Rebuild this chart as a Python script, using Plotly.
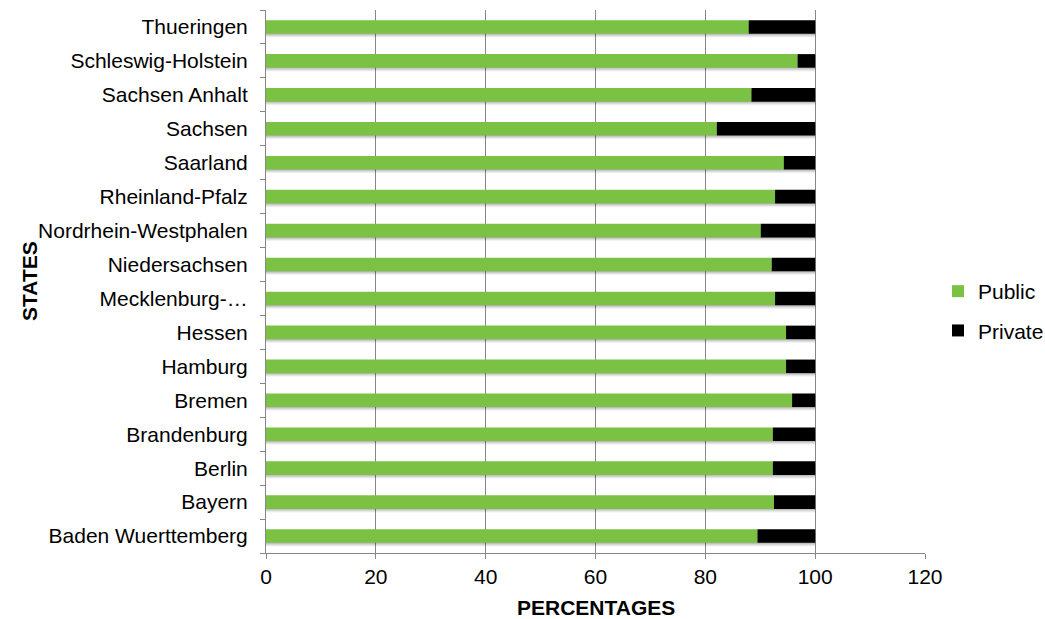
import plotly.graph_objects as go

# States listed bottom-to-top as they appear on the category axis
states = [
    "Baden Wuerttemberg", "Bayern", "Berlin", "Brandenburg", "Bremen",
    "Hamburg", "Hessen", "Mecklenburg-…", "Niedersachsen",
    "Nordrhein-Westphalen", "Rheinland-Pfalz", "Saarland", "Sachsen",
    "Sachsen Anhalt", "Schleswig-Holstein", "Thueringen",
]
public_pct = [89.5, 92.5, 92.3, 92.3, 95.8, 94.7, 94.7, 92.7, 92.1,
              90.1, 92.7, 94.3, 82.1, 88.4, 96.8, 87.9]
private_pct = [round(100 - p, 1) for p in public_pct]
totals = [p + q for p, q in zip(public_pct, private_pct)]

x_ticks = [0, 20, 40, 60, 80, 100, 120]

GREEN = "#7BC143"
AXIS_GRAY = "#868686"
FONT = "Liberation Sans, Arial, sans-serif"
FS = 21

W, H = 1045, 619
ML, MR, MT, MB = 266, 120, 10, 66

fig = go.Figure()

# soft drop shadow under each bar
for off, alpha in [(-0.31, 0.05), (-0.28, 0.07), (-0.25, 0.09), (-0.22, 0.10)]:
    fig.add_trace(go.Bar(
        y=states, x=totals, orientation="h", width=0.4, offset=off,
        marker=dict(color=f"rgba(0,0,0,{alpha})", line=dict(width=0)),
        showlegend=False, hoverinfo="skip",
    ))

fig.add_trace(go.Bar(
    y=states, x=public_pct, name="Public", orientation="h",
    width=0.4, offset=-0.2, legendgroup="pub",
    marker=dict(color=GREEN, line=dict(width=0)),
))
fig.add_trace(go.Bar(
    y=states, x=private_pct, base=public_pct, name="Private", orientation="h",
    width=0.4, offset=-0.2, legendgroup="priv",
    marker=dict(color="#000000", line=dict(width=0)),
))

plot_w = W - ML - MR
plot_h = H - MT - MB

fig.update_layout(
    width=W, height=H,
    margin=dict(l=ML, r=MR, t=MT, b=MB, autoexpand=False),
    barmode="overlay",
    plot_bgcolor="white", paper_bgcolor="white",
    font=dict(family=FONT, size=FS, color="#000000"),
    showlegend=True,
    legend=dict(
        x=(938 - ML) / plot_w, y=(H - MB - 311) / plot_h,
        xanchor="left", yanchor="middle",
        font=dict(size=FS), traceorder="grouped",
        itemwidth=30, tracegroupgap=9,
        bgcolor="rgba(0,0,0,0)",
    ),
    xaxis=dict(
        range=[0, 120], tickvals=x_ticks, ticktext=[str(v) for v in x_ticks],
        showgrid=True, gridcolor=AXIS_GRAY, gridwidth=1,
        showline=True, linecolor=AXIS_GRAY, linewidth=1,
        ticks="outside", ticklen=5, tickcolor=AXIS_GRAY,
        zeroline=False, tickfont=dict(size=FS),
    ),
    yaxis=dict(
        categoryorder="array", categoryarray=states,
        range=[-0.5, len(states) - 0.5],
        showline=True, linecolor=AXIS_GRAY, linewidth=1,
        ticks="outside", ticklen=5, tickcolor=AXIS_GRAY,
        tickson="boundaries", showgrid=False, zeroline=False,
        tickfont=dict(size=FS), ticklabelstandoff=13,
    ),
    annotations=[
        dict(text="<b>STATES</b>",
             x=(30 - ML) / plot_w, y=(H - MB - 281) / plot_h,
             xref="paper", yref="paper", showarrow=False, textangle=-90,
             font=dict(size=FS), xanchor="center", yanchor="middle"),
        dict(text="<b>PERCENTAGES</b>",
             x=0.5, y=(H - MB - 607) / plot_h,
             xref="paper", yref="paper", showarrow=False,
             font=dict(size=FS), xanchor="center", yanchor="middle"),
    ],
)

fig.write_html("out.html")
